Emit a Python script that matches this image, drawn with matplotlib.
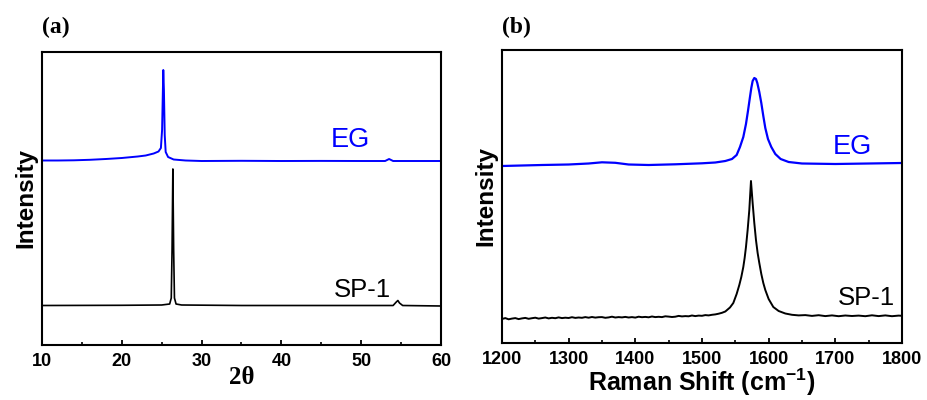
import matplotlib
matplotlib.use("Agg")
import matplotlib.pyplot as plt
from matplotlib.ticker import MultipleLocator

plt.rcParams["font.family"] = ["Liberation Sans", "DejaVu Sans"]
plt.rcParams["mathtext.fontset"] = "custom"
plt.rcParams["mathtext.rm"] = "Liberation Sans:bold"
plt.rcParams["mathtext.default"] = "rm"

# XRD patterns (2-theta, intensity in a.u.)
xrd_eg_x = [10, 12, 14, 16, 18, 20, 22, 23, 24, 24.6, 24.9, 25.05, 25.15, 25.2,
            25.28, 25.38, 25.5, 25.8, 26.5, 28, 30, 35, 40, 45, 50, 53, 53.5, 54, 57, 60]
xrd_eg_y = [184.5, 184.5, 184.7, 185.2, 186, 187, 188.5, 189.5, 191.5, 193.5, 197, 215, 255, 275,
            255, 210, 193, 188, 185.5, 184.5, 184, 184.2, 184, 184.1, 184, 184, 186, 184, 184, 184]

xrd_sp_x = [10, 15, 20, 25, 26, 26.2, 26.3, 26.4, 26.5, 26.6, 26.8, 27.5, 35, 45,
            54, 54.4, 54.6, 54.8, 55.2, 60]
xrd_sp_y = [39.5, 39.6, 39.7, 40, 41, 47, 95, 176, 95, 47, 41, 40, 39.5, 39.5,
            39.5, 43, 44.5, 42, 39.5, 39]

# Raman spectra (shift in cm-1, intensity in a.u.)
ram_eg_x = [1200, 1230, 1260, 1300, 1330, 1350, 1370, 1390, 1420, 1460, 1500, 1520, 1535,
            1545, 1552, 1557, 1562, 1566, 1569, 1572, 1574, 1576, 1578.5, 1581, 1583, 1586,
            1589, 1592, 1595, 1599, 1604, 1610, 1618, 1630, 1650, 1700, 1750, 1800]
ram_eg_y = [177, 177.5, 178, 178.5, 179.5, 180.7, 180.2, 178.5, 178, 178.7, 179.7, 180.5, 182,
            184, 188, 196, 206, 219, 232, 246, 255, 262, 265, 264, 260, 251,
            240, 227, 215, 204, 196, 189, 184, 181, 179.5, 179, 179.5, 180]

ram_sp_x = [1200, 1205, 1210, 1215, 1220, 1225, 1230, 1235, 1240, 1245, 1250, 1255, 1260,
            1265, 1270, 1275, 1280, 1285, 1290, 1295, 1300, 1305, 1310, 1315, 1320, 1325,
            1330, 1335, 1340, 1345, 1350, 1355, 1360, 1365, 1370, 1375, 1380, 1385, 1390,
            1395, 1400, 1405, 1410, 1415, 1420, 1425, 1430, 1435, 1440, 1445, 1450, 1455,
            1460, 1465, 1470, 1475, 1480, 1485, 1490, 1495, 1500, 1505, 1510, 1515, 1520,
            1525, 1530, 1535, 1542, 1547, 1552, 1556, 1559, 1562, 1564, 1566, 1568.5, 1571,
            1573.5, 1576, 1578.5, 1581, 1583.5, 1586, 1589, 1592, 1595, 1600, 1607, 1615,
            1625, 1635, 1645, 1655, 1665, 1675, 1685, 1695, 1705, 1715, 1725, 1735, 1745,
            1755, 1765, 1775, 1785, 1795, 1800]
ram_sp_y = [24.0, 24.9, 23.7, 24.4, 24.9, 23.9, 24.6, 25.1, 24.2, 24.8, 25.3, 24.4, 24.9,
            25.5, 24.6, 25.2, 24.8, 25.6, 24.9, 25.3, 25.0, 25.8, 25.1, 25.5, 25.2, 25.9,
            25.3, 26.0, 25.4, 25.8, 25.9, 25.2, 25.6, 26.3, 25.5, 25.9, 25.6, 26.1, 25.5,
            25.9, 25.4, 26.3, 25.8, 26.1, 25.7, 26.5, 25.9, 26.2, 25.9, 26.7, 26.4, 26.0,
            26.3, 27.1, 26.6, 26.9, 26.7, 27.5, 26.9, 27.4, 27.2, 27.9, 27.6, 28.2, 28.6,
            29.3, 30.2, 31.5, 35.5, 40, 49, 58, 66, 76, 85, 96, 113, 133,
            162, 140, 120, 103, 90, 80, 69, 60, 53, 44, 36, 32,
            29.5, 28.2, 27.6, 27.9, 27.1, 27.8, 26.9, 27.6, 26.8, 27.5, 27.0, 27.4, 26.8,
            27.7, 26.9, 27.6, 26.8, 27.4, 27.2]

fig = plt.figure(figsize=(9.27, 4.0), dpi=100)
ax_a = fig.add_axes([0.0453, 0.1375, 0.4304, 0.7325])
ax_b = fig.add_axes([0.5415, 0.1425, 0.4315, 0.7325])


def style_axes(ax):
    for sp in ax.spines.values():
        sp.set_linewidth(1.5)
    ax.set_yticks([])
    ax.tick_params(axis="x", which="major", direction="in", length=3.5, width=1.3,
                   labelsize=13, pad=6)
    ax.tick_params(axis="x", which="minor", direction="in", length=2.5, width=1.2)
    for lab in ax.get_xticklabels():
        lab.set_fontweight("bold")
    ax.set_ylabel("Intensity", fontsize=17.5, fontweight="bold", labelpad=3)
    ax.set_ylim(0, 293)


ax_a.plot(xrd_eg_x, xrd_eg_y, color="#0000ff", lw=1.4)
ax_a.plot(xrd_sp_x, xrd_sp_y, color="black", lw=1.2)
ax_a.set_xlim(10, 60)
ax_a.xaxis.set_major_locator(MultipleLocator(10))
ax_a.xaxis.set_minor_locator(MultipleLocator(5))
style_axes(ax_a)
ax_a.set_xlabel("2θ", family="Liberation Serif", fontsize=18, fontweight="bold", labelpad=-3)
ax_a.text(48.6, 205, "EG", color="#0000ff", fontsize=19.5, ha="center", va="center")
ax_a.text(50.2, 55, "SP-1", color="black", fontsize=18.5, ha="center", va="center")
ax_a.text(0.0, 1.085, "(a)", transform=ax_a.transAxes, family="Liberation Serif",
          fontsize=17, fontweight="bold", ha="left", va="center")

ax_b.plot(ram_eg_x, ram_eg_y, color="#0000ff", lw=1.6)
ax_b.plot(ram_sp_x, ram_sp_y, color="black", lw=1.4)
ax_b.set_xlim(1200, 1800)
ax_b.xaxis.set_major_locator(MultipleLocator(100))
ax_b.xaxis.set_minor_locator(MultipleLocator(50))
style_axes(ax_b)
ax_b.set_xlabel("Raman Shift (cm$^{-1}$)", fontsize=18, fontweight="bold", labelpad=-1)
ax_b.text(1726, 196, "EG", color="#0000ff", fontsize=19.5, ha="center", va="center")
ax_b.text(1747, 45, "SP-1", color="black", fontsize=18.5, ha="center", va="center")
ax_b.text(0.0, 1.078, "(b)", transform=ax_b.transAxes, family="Liberation Serif",
          fontsize=17, fontweight="bold", ha="left", va="center")

fig.savefig("out.png", dpi=100)
plt.close(fig)
